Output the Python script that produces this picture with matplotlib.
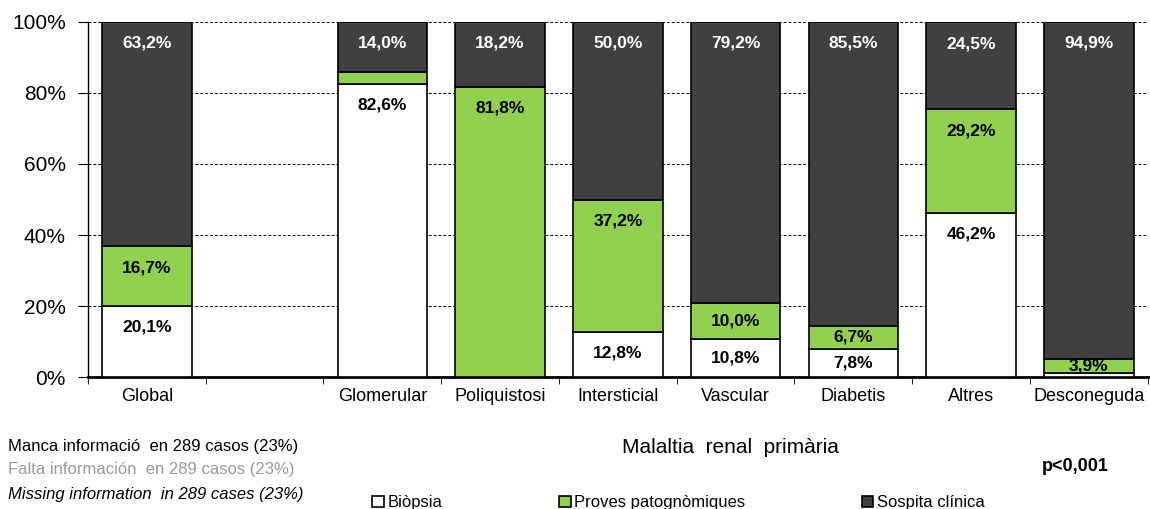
import matplotlib.pyplot as plt
import numpy as np

plt.rcParams['font.family'] = ['Liberation Sans', 'DejaVu Sans']

# Dades
categories = ["Global", "", "Glomerular", "Poliquistosi", "Intersticial",
              "Vascular", "Diabetis", "Altres", "Desconeguda"]
biopsia = [20.1, 0, 82.6, 0, 12.8, 10.8, 7.8, 46.2, 1.2]
proves = [16.7, 0, 3.4, 81.8, 37.2, 10.0, 6.7, 29.2, 3.9]
sospita = [63.2, 0, 14.0, 18.2, 50.0, 79.2, 85.5, 24.5, 94.9]
show_label_biopsia = [True, False, True, False, True, True, True, True, False]
show_label_proves = [True, False, False, True, True, True, True, True, True]
show_label_sospita = [True, False, True, True, True, True, True, True, True]

series = [
    ("Biòpsia", biopsia, show_label_biopsia, "white", "black"),
    ("Proves patognòmiques", proves, show_label_proves, "#92D050", "black"),
    ("Sospita clínica", sospita, show_label_sospita, "#404040", "white"),
]

fig = plt.figure(figsize=(11.5, 5.09), dpi=100)
ax = fig.add_axes([0.0765, 0.2593, 0.9215, 0.6975])

x = np.arange(len(categories))
width = 0.76
bottom = np.zeros(len(categories))
handles = []
for name, vals, show, color, txtcolor in series:
    vals = np.array(vals)
    mask = np.array([c != "" for c in categories])
    b = ax.bar(x[mask], vals[mask], width, bottom=bottom[mask], color=color,
               edgecolor="black", linewidth=1.2, zorder=3, label=name)
    handles.append(b)
    for i, v in enumerate(vals):
        if not show[i] or v <= 0:
            continue
        top = bottom[i] + v
        off = min(6.0, v / 2)
        ax.text(x[i], top - off, f"{v:.1f}%".replace(".", ","),
                ha="center", va="center", fontsize=12.5, fontweight="bold",
                color=txtcolor, zorder=4)
    bottom = bottom + vals

ax.set_xlim(-0.5, len(categories) - 0.5)
ax.set_ylim(0, 100)
ax.set_yticks(range(0, 101, 20))
ax.set_yticklabels([f"{t}%" for t in range(0, 101, 20)], fontsize=15)
ax.yaxis.grid(True, linestyle=(0, (3, 2)), color="black", linewidth=0.7, zorder=0)
ax.set_xticks(x)
ax.set_xticklabels(categories, fontsize=13)
ax.tick_params(axis="x", which="major", length=0, pad=8)
ax.set_xticks(np.arange(-0.5, len(categories), 1), minor=True)
ax.tick_params(axis="x", which="minor", length=5, direction="out")
ax.tick_params(axis="y", length=7, direction="out", pad=9)
for s in ["top", "right"]:
    ax.spines[s].set_visible(False)
ax.spines["bottom"].set_linewidth(2)
ax.spines["left"].set_linewidth(1)

fig.text(0.635, 0.121, "Malaltia  renal  primària", ha="center", va="center", fontsize=15)
fig.text(0.935, 0.084, "p<0,001", ha="center", va="center", fontsize=13, fontweight="bold")
fig.text(0.007, 0.123, "Manca informació  en 289 casos (23%)", ha="left", va="center", fontsize=12)
fig.text(0.007, 0.078, "Falta información  en 289 casos (23%)", ha="left", va="center",
         fontsize=12, color="#999999")
fig.text(0.007, 0.029, "Missing information  in 289 cases (23%)", ha="left", va="center",
         fontsize=12, style="italic")

fig.legend(handles=handles, loc="center", bbox_to_anchor=(0.59, 0.012), ncol=3,
           frameon=False, fontsize=12, handlelength=0.7, handleheight=0.7,
           handletextpad=0.2, columnspacing=7)

fig.savefig("out.png", dpi=100)
